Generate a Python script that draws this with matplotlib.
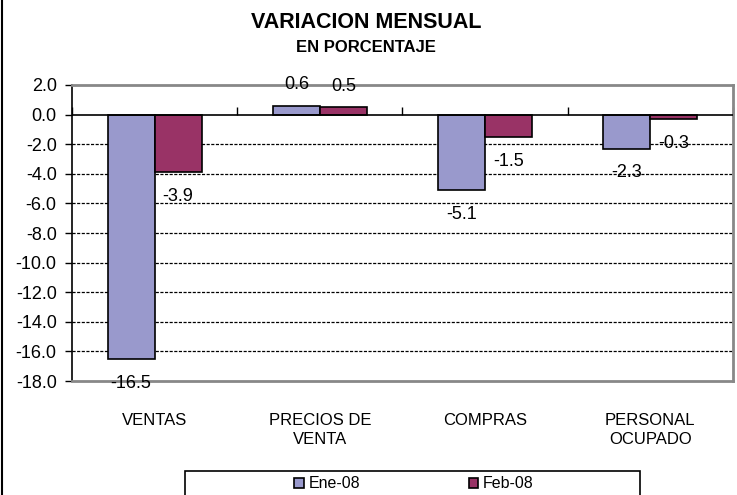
import matplotlib
matplotlib.use("Agg")
import matplotlib.pyplot as plt
import numpy as np
from matplotlib.patches import Rectangle
from matplotlib.lines import Line2D
from matplotlib.ticker import FormatStrFormatter

categories = ["VENTAS", "PRECIOS DE\nVENTA", "COMPRAS", "PERSONAL\nOCUPADO"]
series_names = ["Ene-08", "Feb-08"]
ene = [-16.5, 0.6, -5.1, -2.3]
feb = [-3.9, 0.5, -1.5, -0.3]
yticks = [2.0, 0.0, -2.0, -4.0, -6.0, -8.0, -10.0, -12.0, -14.0, -16.0, -18.0]

colors = ["#9999CC", "#993366"]
plt.rcParams["font.family"] = ["Liberation Sans", "DejaVu Sans"]

W, H = 737, 495
fig = plt.figure(figsize=(W / 100, H / 100), dpi=100)
ax = fig.add_axes([72 / W, 1 - 381 / H, (733 - 72) / W, (381 - 85) / H])

x = np.arange(len(categories))
bw = 0.285
for k, (vals, col) in enumerate(zip([ene, feb], colors)):
    off = (k - 0.5) * bw
    ax.bar(x + off, vals, width=bw, color=col, edgecolor="black",
           linewidth=1.2, label=series_names[k], zorder=3)
    for xi, v in zip(x + off, vals):
        dy = 15 if v >= 0 else -17.5
        ax.annotate(f"{v:.1f}", (xi, v), xytext=(0, dy), textcoords="offset points",
                    ha="center", va="center", fontsize=13, zorder=6,
                    annotation_clip=False)

ax.set_xlim(-0.5, len(categories) - 0.5)
ax.set_ylim(min(yticks), max(yticks))
ax.set_yticks(yticks)
ax.yaxis.set_major_formatter(FormatStrFormatter("%.1f"))
ax.tick_params(axis="y", direction="out", length=5, width=1, labelsize=13, pad=6)
ax.set_xticks(x)
ax.set_xticklabels(categories, fontsize=12, linespacing=1.35)
ax.tick_params(axis="x", length=0, pad=23)

for t in yticks:
    if t not in (0.0, max(yticks), min(yticks)):
        ax.axhline(t, color="black", linewidth=0.9, linestyle=(0, (2.5, 1.2)), zorder=1)

for s in ["top", "right", "bottom"]:
    ax.spines[s].set_color("#888888")
    ax.spines[s].set_linewidth(2)
ax.spines["left"].set_color("black")
ax.spines["left"].set_linewidth(1.2)

ax.axhline(0, color="black", linewidth=1.2, zorder=4)
sec = ax.secondary_xaxis((0 - min(yticks)) / (max(yticks) - min(yticks)))
sec.set_xticks(np.arange(len(categories) + 1) - 0.5)
sec.set_xticklabels([])
sec.xaxis.set_ticks_position("bottom")
sec.tick_params(axis="x", direction="in", length=6, width=1, color="black")
for s in sec.spines.values():
    s.set_visible(False)

fig.text(366 / W, 1 - 22 / H, "VARIACION MENSUAL", ha="center", va="center",
         fontsize=15.5, fontweight="bold")
fig.text(366 / W, 1 - 48 / H, "EN PORCENTAJE", ha="center", va="center",
         fontsize=12, fontweight="bold")

fig.patches.append(Rectangle((185 / W, -0.05), 455 / W, 0.05 + (1 - 471 / H),
                             transform=fig.transFigure, facecolor="white",
                             edgecolor="black", linewidth=1.2, zorder=5))
handles, labels = ax.get_legend_handles_labels()
leg = fig.legend(handles, labels, loc="center", bbox_to_anchor=(414 / W, 1 - 484 / H),
                 ncol=2, frameon=False, fontsize=11.5, handlelength=0.6, handleheight=0.55,
                 handletextpad=0.3, columnspacing=6.8, borderpad=0)
leg.set_zorder(6)

fig.add_artist(Line2D([2 / W, 2 / W], [0, 1], transform=fig.transFigure,
                      color="black", linewidth=1.5))

fig.savefig("out.png", dpi=100)
